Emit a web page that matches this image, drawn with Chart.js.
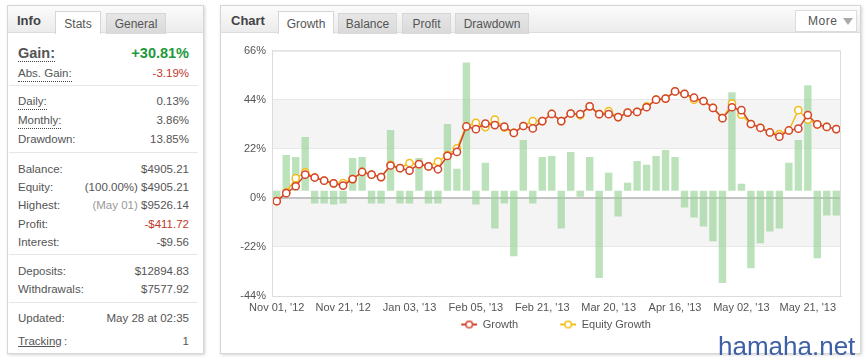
<!DOCTYPE html>
<html lang="en">
<head>
<meta charset="UTF-8">
<title>Growth</title>
<style>
  body { margin: 0; width: 868px; height: 360px; background: #fff; font-family: "Liberation Sans", Arial, sans-serif; color: #555; position: relative; overflow: hidden; }
  .panel { position: absolute; top: 5px; height: 347px; border: 1px solid #d6d6d6; background: #fff; box-shadow: 1px 1px 3px rgba(0,0,0,0.18); }
  #info { left: 7px; width: 195px; }
  #chartPanel { left: 220px; width: 639px; }
  .head { position: absolute; left: 0; right: 0; top: 0; height: 26px; background: linear-gradient(#fbfbfb, #ececec); border-bottom: 1px solid #dcdcdc; }
  .title { position: absolute; top: 7px; font-size: 13px; font-weight: bold; color: #444; }
  .tab { position: absolute; top: 7px; height: 20px; line-height: 21px; font-size: 12px; text-align: center; color: #555; border: 1px solid #d6d6d6; border-bottom: none; background: linear-gradient(#e6e6e6, #d9d9d9); }
  .tab.on { top: 5px; height: 22px; line-height: 24px; background: #fff; }
  .more { position: absolute; top: 4px; left: 574px; width: 60px; height: 20px; background: #fff; border: 1px solid #dcdcdc; font-size: 12px; line-height: 20px; color: #555; }
  .more span { position: absolute; left: 12px; letter-spacing: 0.5px; }
  .more i { position: absolute; left: 47px; top: 7px; width: 0; height: 0; border-left: 5px solid transparent; border-right: 5px solid transparent; border-top: 7px solid #aaa; }
  .row { position: absolute; left: 10px; width: 171px; height: 16px; font-size: 11.5px; line-height: 16px; }
  .row .k { position: absolute; left: 0; }
  .row .v { position: absolute; right: 0; }
  .dot { border-bottom: 1px dotted #444; }
  .big { font-size: 14.5px; font-weight: bold; }
  .grey { color: #999; }
  .green { color: #1e9a3c; }
  .red { color: #c0392b; }
  .sep { position: absolute; left: 1px; width: 189px; height: 1px; background: #e6e6e6; }
  #wrap { position: absolute; left: 229px; top: 38px; width: 627px; height: 302px; }
  .mark { position: absolute; left: 718px; top: 331px; font-family: "Liberation Sans", Arial, sans-serif; font-size: 26px; color: #3d5fa6; }
</style>
</head>
<body>

<div class="panel" id="info">
  <div class="head">
    <div class="title" style="left:9px">Info</div>
    <div class="tab on" style="left:47px;width:44px">Stats</div>
    <div class="tab" style="left:98px;width:58px">General</div>
  </div>
  <div class="row" style="top:39px"><span class="k big dot">Gain:</span><span class="v big green">+30.81%</span></div>
  <div class="row" style="top:59px"><span class="k dot">Abs. Gain:</span><span class="v red">-3.19%</span></div>
  <div class="sep" style="top:79px"></div>
  <div class="row" style="top:87px"><span class="k dot">Daily:</span><span class="v">0.13%</span></div>
  <div class="row" style="top:106px"><span class="k dot">Monthly:</span><span class="v">3.86%</span></div>
  <div class="row" style="top:125px"><span class="k">Drawdown:</span><span class="v">13.85%</span></div>
  <div class="sep" style="top:146px"></div>
  <div class="row" style="top:155px"><span class="k">Balance:</span><span class="v">$4905.21</span></div>
  <div class="row" style="top:173px"><span class="k">Equity:</span><span class="v">(100.00%) $4905.21</span></div>
  <div class="row" style="top:191px"><span class="k">Highest:</span><span class="v"><span class="grey">(May 01)</span> $9526.14</span></div>
  <div class="row" style="top:210px"><span class="k">Profit:</span><span class="v red">-$411.72</span></div>
  <div class="row" style="top:228px"><span class="k">Interest:</span><span class="v">-$9.56</span></div>
  <div class="sep" style="top:248px"></div>
  <div class="row" style="top:257px"><span class="k">Deposits:</span><span class="v">$12894.83</span></div>
  <div class="row" style="top:275px"><span class="k">Withdrawals:</span><span class="v">$7577.92</span></div>
  <div class="sep" style="top:296px"></div>
  <div class="row" style="top:304px"><span class="k">Updated:</span><span class="v">May 28 at 02:35</span></div>
  <div class="row" style="top:327px"><span class="k" style="text-decoration:underline">Tracking</span><span class="k" style="left:46px">:</span><span class="v">1</span></div>
</div>

<div class="panel" id="chartPanel">
  <div class="head">
    <div class="title" style="left:10px">Chart</div>
    <div class="tab on" style="left:57px;width:54px">Growth</div>
    <div class="tab" style="left:117px;width:57px">Balance</div>
    <div class="tab" style="left:181px;width:47px">Profit</div>
    <div class="tab" style="left:234px;width:72px">Drawdown</div>
    <div class="more"><span>More</span><i></i></div>
  </div>
</div>

<div id="wrap"><canvas id="growthChart"></canvas></div>
<div class="mark">hamaha.net</div>

<script src="https://cdn.jsdelivr.net/npm/chart.js"></script>
<script>
    // x categories, only every 7th one carries a label
    var labels = [
        "Nov 01, '12", '', '', '', '', '', '',
        "Nov 21, '12", '', '', '', '', '', '',
        "Jan 03, '13", '', '', '', '', '', '',
        "Feb 05, '13", '', '', '', '', '', '',
        "Feb 21, '13", '', '', '', '', '', '',
        "Mar 20, '13", '', '', '', '', '', '',
        "Apr 16, '13", '', '', '', '', '', '',
        "May 02, '13", '', '', '', '', '', '',
        "May 21, '13", '', '', ''
    ];

    var growth = [-1.5, 2.1, 5.2, 10.4, 9.1, 7.7, 6.5, 5.5, 8.4, 11.6,
        10.4, 9.3, 14.5, 13.3, 12.2, 15.1, 14.1, 12.8, 18.8, 20.6,
        32.0, 30.8, 33.3, 32.6, 31.9, 29.1, 32.2, 31.1, 34.4, 37.6,
        34.4, 37.8, 37.5, 41.0, 37.5, 37.5, 36.2, 38.2, 38.5, 40.6,
        44.0, 44.5, 47.7, 46.6, 44.9, 43.4, 40.3, 35.7, 40.6, 39.3,
        33.1, 31.4, 29.3, 27.4, 30.2, 31.0, 37.1, 32.9, 31.8, 30.81];

    var equityGrowth = [-1.5, 2.5, 8.8, 11.4, 9.1, 7.7, 6.5, 6.6, 8.4, 11.6,
        10.4, 9.3, 14.8, 13.3, 15.6, 15.1, 14.1, 16.2, 19.2, 22.2,
        32.0, 33.6, 31.7, 35.1, 31.5, 29.1, 32.2, 34.4, 34.4, 37.6,
        34.4, 37.8, 37.0, 41.0, 37.5, 38.9, 36.2, 38.2, 38.5, 41.0,
        44.0, 44.5, 47.7, 46.6, 44.0, 43.4, 40.3, 35.7, 42.2, 37.3,
        33.1, 31.4, 29.3, 28.6, 30.2, 39.3, 35.1, 32.9, 31.8, 30.81];

    // daily change bars (own hidden axis)
    var daily = [-0.7, 3.6, 3.4, 5.4, -1.3, -1.3, -1.4, -1.3, 3.3, 3.4,
        -1.3, -1.3, 6.1, -1.3, -1.3, 3.3, -1.3, -1.3, 6.7, 2.2,
        12.9, -1.4, 2.8, -3.8, -1.3, -6.6, 5.1, -1.3, 3.4, 3.5,
        -3.8, 3.9, -0.6, 3.4, -8.8, 1.8, -2.6, 0.8, 3.0, 2.6,
        3.5, 4.1, 3.4, -1.7, -2.7, -3.6, -5.1, -9.3, 9.9, 0.7,
        -7.8, -5.3, -4.1, -3.8, 2.8, 5.1, 10.6, -6.8, -2.5, -2.5];

    var yTicks = [-44, -22, 0, 22, 44, 66];

    var RED = '#d4452f', YELLOW = '#f2bd16';

    function legendIcon(color) {
        var c = document.createElement('canvas');
        c.width = 58; c.height = 10;
        var g = c.getContext('2d');
        g.strokeStyle = color;
        g.lineWidth = 2;
        g.beginPath(); g.moveTo(42, 5); g.lineTo(58, 5); g.stroke();
        g.fillStyle = '#fff';
        g.lineWidth = 1.5;
        g.beginPath(); g.arc(50, 5, 3.3, 0, Math.PI * 2); g.fill(); g.stroke();
        return c;
    }
    var icons = [legendIcon(RED), legendIcon(YELLOW)];

    // shaded bands + plot frame
    var frame = {
        id: 'frame',
        beforeDraw: function (chart) {
            var a = chart.chartArea, y = chart.scales.y, ctx = chart.ctx;
            ctx.save();
            ctx.fillStyle = '#f4f4f4';
            [[22, 44], [-22, 0]].forEach(function (b) {
                var t = y.getPixelForValue(b[1]), btm = y.getPixelForValue(b[0]);
                ctx.fillRect(a.left, t, a.right - a.left, btm - t);
            });
            ctx.restore();
        },
        afterDraw: function (chart) {
            var a = chart.chartArea, ctx = chart.ctx;
            ctx.save();
            ctx.strokeStyle = '#dcdcdc';
            ctx.lineWidth = 1;
            ctx.strokeRect(a.left + 0.5, a.top + 0.5, a.right - a.left - 1, a.bottom - a.top);
            ctx.restore();
        }
    };

    Chart.defaults.font.family = '"Liberation Sans", Arial, sans-serif';
    Chart.defaults.font.size = 11;
    Chart.defaults.color = '#555';

    new Chart(document.getElementById('growthChart'), {
        type: 'bar',
        data: {
            labels: labels,
            datasets: [{
                type: 'line',
                label: 'Growth',
                data: growth,
                borderColor: RED,
                borderWidth: 1.5,
                pointRadius: 3.6,
                pointBorderWidth: 1.5,
                pointBackgroundColor: '#fff',
                pointBorderColor: RED,
                tension: 0,
                yAxisID: 'y',
                order: 0
            }, {
                type: 'line',
                label: 'Equity Growth',
                data: equityGrowth,
                borderColor: YELLOW,
                borderWidth: 1.5,
                pointRadius: 3.6,
                pointBorderWidth: 1.5,
                pointBackgroundColor: '#fff',
                pointBorderColor: YELLOW,
                tension: 0,
                yAxisID: 'y',
                order: 1
            }, {
                type: 'bar',
                label: 'Daily',
                data: daily,
                backgroundColor: 'rgba(150, 210, 150, 0.65)',
                borderWidth: 0,
                barPercentage: 0.78,
                categoryPercentage: 1,
                yAxisID: 'y2',
                order: 2
            }]
        },
        options: {
            responsive: true,
            maintainAspectRatio: false,
            animation: false,
            layout: { padding: { top: 11, right: 15, left: 0, bottom: 0 } },
            plugins: {
                tooltip: { enabled: false },
                legend: {
                    position: 'bottom',
                    labels: {
                        usePointStyle: true,
                        pointStyleWidth: 58,
                        padding: 0,
                        color: '#555',
                        font: { size: 11 },
                        generateLabels: function (chart) {
                            var items = Chart.defaults.plugins.legend.labels.generateLabels(chart);
                            items = items.filter(function (it) { return it.datasetIndex < 2; });
                            items.forEach(function (it) { it.pointStyle = icons[it.datasetIndex]; });
                            return items;
                        }
                    }
                }
            },
            scales: {
                x: {
                    offset: true,
                    grid: { display: false, drawTicks: false },
                    border: { color: '#dcdcdc' },
                    ticks: {
                        autoSkip: false,
                        maxRotation: 0,
                        padding: 6,
                        font: { size: 11, lineHeight: 1 },
                        color: '#555'
                    }
                },
                y: {
                    min: -44,
                    max: 66,
                    afterBuildTicks: function (scale) {
                        scale.ticks = yTicks.map(function (v) { return { value: v }; });
                    },
                    afterFit: function (scale) { scale.width = 43; },
                    border: { color: '#dcdcdc' },
                    grid: {
                        drawTicks: false,
                        color: function (c) { return c.tick && c.tick.value === 0 ? '#c4c4c4' : '#e8e8e8'; },
                        lineWidth: function (c) { return c.tick && c.tick.value === 0 ? 2 : 1; }
                    },
                    ticks: {
                        padding: 6,
                        color: '#555',
                        callback: function (v) { return v + '%'; }
                    }
                },
                y2: {
                    display: false,
                    min: -10.6,
                    max: 14.1
                }
            }
        },
        plugins: [frame]
    });
</script>
</body>
</html>
